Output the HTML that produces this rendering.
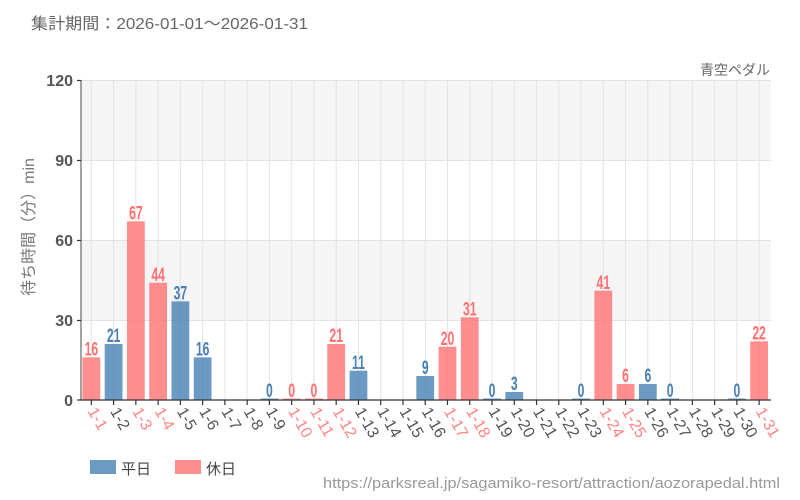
<!DOCTYPE html>
<html><head><meta charset="utf-8"><style>
html,body{margin:0;padding:0;background:#fff;}
svg{display:block;}
text{font-family:"Liberation Sans","Noto Sans CJK JP",sans-serif;}
</style></head><body>
<svg width="800" height="500" viewBox="0 0 800 500" xmlns="http://www.w3.org/2000/svg">
<rect x="0" y="0" width="800" height="500" fill="#fff"/>
<text x="31" y="29" font-size="16" fill="#666" textLength="277" lengthAdjust="spacingAndGlyphs">集計期間：2026-01-01～2026-01-31</text>
<text x="770" y="75" font-size="14" fill="#666" text-anchor="end">青空ペダル</text>

<!-- bands -->
<rect x="81" y="80" width="690" height="80" fill="#f5f5f5"/>
<rect x="81" y="240" width="690" height="80" fill="#f5f5f5"/>
<!-- horizontal gridlines -->
<g stroke="#e3e3e3" stroke-width="1">
<line x1="81" y1="80.5" x2="771" y2="80.5"/>
<line x1="81" y1="160.5" x2="771" y2="160.5"/>
<line x1="81" y1="240.5" x2="771" y2="240.5"/>
<line x1="81" y1="320.5" x2="771" y2="320.5"/>
</g>
<!-- vertical gridlines -->
<g stroke="#e3e3e3" stroke-width="1">
<line x1="91.33" y1="80" x2="91.33" y2="400"/>
<line x1="113.59" y1="80" x2="113.59" y2="400"/>
<line x1="135.85" y1="80" x2="135.85" y2="400"/>
<line x1="158.11" y1="80" x2="158.11" y2="400"/>
<line x1="180.37" y1="80" x2="180.37" y2="400"/>
<line x1="202.63" y1="80" x2="202.63" y2="400"/>
<line x1="224.89" y1="80" x2="224.89" y2="400"/>
<line x1="247.15" y1="80" x2="247.15" y2="400"/>
<line x1="269.41" y1="80" x2="269.41" y2="400"/>
<line x1="291.67" y1="80" x2="291.67" y2="400"/>
<line x1="313.93" y1="80" x2="313.93" y2="400"/>
<line x1="336.19" y1="80" x2="336.19" y2="400"/>
<line x1="358.45" y1="80" x2="358.45" y2="400"/>
<line x1="380.71" y1="80" x2="380.71" y2="400"/>
<line x1="402.97" y1="80" x2="402.97" y2="400"/>
<line x1="425.23" y1="80" x2="425.23" y2="400"/>
<line x1="447.49" y1="80" x2="447.49" y2="400"/>
<line x1="469.75" y1="80" x2="469.75" y2="400"/>
<line x1="492.01" y1="80" x2="492.01" y2="400"/>
<line x1="514.27" y1="80" x2="514.27" y2="400"/>
<line x1="536.53" y1="80" x2="536.53" y2="400"/>
<line x1="558.79" y1="80" x2="558.79" y2="400"/>
<line x1="581.05" y1="80" x2="581.05" y2="400"/>
<line x1="603.31" y1="80" x2="603.31" y2="400"/>
<line x1="625.57" y1="80" x2="625.57" y2="400"/>
<line x1="647.83" y1="80" x2="647.83" y2="400"/>
<line x1="670.09" y1="80" x2="670.09" y2="400"/>
<line x1="692.35" y1="80" x2="692.35" y2="400"/>
<line x1="714.61" y1="80" x2="714.61" y2="400"/>
<line x1="736.87" y1="80" x2="736.87" y2="400"/>
<line x1="759.13" y1="80" x2="759.13" y2="400"/>
</g>

<!-- bars -->
<g>
<rect x="82.43" y="357.33" width="17.8" height="42.67" fill="#ff7373" fill-opacity="0.8"/>
<rect x="104.69" y="344" width="17.8" height="56" fill="#4682b4" fill-opacity="0.8"/>
<rect x="126.95" y="221.33" width="17.8" height="178.67" fill="#ff7373" fill-opacity="0.8"/>
<rect x="149.21" y="282.67" width="17.8" height="117.33" fill="#ff7373" fill-opacity="0.8"/>
<rect x="171.47" y="301.33" width="17.8" height="98.67" fill="#4682b4" fill-opacity="0.8"/>
<rect x="193.73" y="357.33" width="17.8" height="42.67" fill="#4682b4" fill-opacity="0.8"/>
<rect x="260.51" y="398.5" width="17.8" height="1.5" fill="#4682b4" fill-opacity="0.8"/>
<rect x="282.77" y="398.5" width="17.8" height="1.5" fill="#ff7373" fill-opacity="0.8"/>
<rect x="305.03" y="398.5" width="17.8" height="1.5" fill="#ff7373" fill-opacity="0.8"/>
<rect x="327.29" y="344" width="17.8" height="56" fill="#ff7373" fill-opacity="0.8"/>
<rect x="349.55" y="370.67" width="17.8" height="29.33" fill="#4682b4" fill-opacity="0.8"/>
<rect x="416.33" y="376" width="17.8" height="24" fill="#4682b4" fill-opacity="0.8"/>
<rect x="438.59" y="346.67" width="17.8" height="53.33" fill="#ff7373" fill-opacity="0.8"/>
<rect x="460.85" y="317.33" width="17.8" height="82.67" fill="#ff7373" fill-opacity="0.8"/>
<rect x="483.11" y="398.5" width="17.8" height="1.5" fill="#4682b4" fill-opacity="0.8"/>
<rect x="505.37" y="392" width="17.8" height="8" fill="#4682b4" fill-opacity="0.8"/>
<rect x="572.15" y="398.5" width="17.8" height="1.5" fill="#4682b4" fill-opacity="0.8"/>
<rect x="594.41" y="290.67" width="17.8" height="109.33" fill="#ff7373" fill-opacity="0.8"/>
<rect x="616.67" y="384" width="17.8" height="16" fill="#ff7373" fill-opacity="0.8"/>
<rect x="638.93" y="384" width="17.8" height="16" fill="#4682b4" fill-opacity="0.8"/>
<rect x="661.19" y="398.5" width="17.8" height="1.5" fill="#4682b4" fill-opacity="0.8"/>
<rect x="727.97" y="398.5" width="17.8" height="1.5" fill="#4682b4" fill-opacity="0.8"/>
<rect x="750.23" y="341.33" width="17.8" height="58.67" fill="#ff7373" fill-opacity="0.8"/>
</g>

<!-- value labels -->
<g font-size="19" font-weight="bold" text-anchor="middle">
<text transform="translate(91.33,355.5) scale(0.64,1)" fill="#ff7070">16</text>
<text transform="translate(113.59,342) scale(0.64,1)" fill="#4a80b4">21</text>
<text transform="translate(135.85,219.5) scale(0.64,1)" fill="#ff7070">67</text>
<text transform="translate(158.11,280.8) scale(0.64,1)" fill="#ff7070">44</text>
<text transform="translate(180.37,299.5) scale(0.64,1)" fill="#4a80b4">37</text>
<text transform="translate(202.63,355.5) scale(0.64,1)" fill="#4a80b4">16</text>
<text transform="translate(269.41,397) scale(0.64,1)" fill="#4a80b4">0</text>
<text transform="translate(291.67,397) scale(0.64,1)" fill="#ff7070">0</text>
<text transform="translate(313.93,397) scale(0.64,1)" fill="#ff7070">0</text>
<text transform="translate(336.19,342) scale(0.64,1)" fill="#ff7070">21</text>
<text transform="translate(358.45,368.8) scale(0.64,1)" fill="#4a80b4">11</text>
<text transform="translate(425.23,374) scale(0.64,1)" fill="#4a80b4">9</text>
<text transform="translate(447.49,344.8) scale(0.64,1)" fill="#ff7070">20</text>
<text transform="translate(469.75,315.5) scale(0.64,1)" fill="#ff7070">31</text>
<text transform="translate(492.01,397) scale(0.64,1)" fill="#4a80b4">0</text>
<text transform="translate(514.27,390) scale(0.64,1)" fill="#4a80b4">3</text>
<text transform="translate(581.05,397) scale(0.64,1)" fill="#4a80b4">0</text>
<text transform="translate(603.31,288.8) scale(0.64,1)" fill="#ff7070">41</text>
<text transform="translate(625.57,382) scale(0.64,1)" fill="#ff7070">6</text>
<text transform="translate(647.83,382) scale(0.64,1)" fill="#4a80b4">6</text>
<text transform="translate(670.09,397) scale(0.64,1)" fill="#4a80b4">0</text>
<text transform="translate(736.87,397) scale(0.64,1)" fill="#4a80b4">0</text>
<text transform="translate(759.13,339.5) scale(0.64,1)" fill="#ff7070">22</text>
</g>

<!-- axes -->
<line x1="81" y1="80" x2="81" y2="400" stroke="#666" stroke-width="1.2"/>
<line x1="80" y1="400" x2="771" y2="400" stroke="#333" stroke-width="1.2"/>
<g stroke="#333" stroke-width="1.2">
<line x1="77" y1="80.5" x2="81" y2="80.5"/>
<line x1="77" y1="160.5" x2="81" y2="160.5"/>
<line x1="77" y1="240.5" x2="81" y2="240.5"/>
<line x1="77" y1="320.5" x2="81" y2="320.5"/>
<line x1="77" y1="400" x2="81" y2="400"/>
</g>
<g stroke="#333" stroke-width="1.2">
<line x1="91.33" y1="400" x2="91.33" y2="405"/>
<line x1="113.59" y1="400" x2="113.59" y2="405"/>
<line x1="135.85" y1="400" x2="135.85" y2="405"/>
<line x1="158.11" y1="400" x2="158.11" y2="405"/>
<line x1="180.37" y1="400" x2="180.37" y2="405"/>
<line x1="202.63" y1="400" x2="202.63" y2="405"/>
<line x1="224.89" y1="400" x2="224.89" y2="405"/>
<line x1="247.15" y1="400" x2="247.15" y2="405"/>
<line x1="269.41" y1="400" x2="269.41" y2="405"/>
<line x1="291.67" y1="400" x2="291.67" y2="405"/>
<line x1="313.93" y1="400" x2="313.93" y2="405"/>
<line x1="336.19" y1="400" x2="336.19" y2="405"/>
<line x1="358.45" y1="400" x2="358.45" y2="405"/>
<line x1="380.71" y1="400" x2="380.71" y2="405"/>
<line x1="402.97" y1="400" x2="402.97" y2="405"/>
<line x1="425.23" y1="400" x2="425.23" y2="405"/>
<line x1="447.49" y1="400" x2="447.49" y2="405"/>
<line x1="469.75" y1="400" x2="469.75" y2="405"/>
<line x1="492.01" y1="400" x2="492.01" y2="405"/>
<line x1="514.27" y1="400" x2="514.27" y2="405"/>
<line x1="536.53" y1="400" x2="536.53" y2="405"/>
<line x1="558.79" y1="400" x2="558.79" y2="405"/>
<line x1="581.05" y1="400" x2="581.05" y2="405"/>
<line x1="603.31" y1="400" x2="603.31" y2="405"/>
<line x1="625.57" y1="400" x2="625.57" y2="405"/>
<line x1="647.83" y1="400" x2="647.83" y2="405"/>
<line x1="670.09" y1="400" x2="670.09" y2="405"/>
<line x1="692.35" y1="400" x2="692.35" y2="405"/>
<line x1="714.61" y1="400" x2="714.61" y2="405"/>
<line x1="736.87" y1="400" x2="736.87" y2="405"/>
<line x1="759.13" y1="400" x2="759.13" y2="405"/>
</g>

<!-- y tick labels -->
<g font-size="16" font-weight="bold" fill="#555" text-anchor="end">
<text x="73" y="86">120</text>
<text x="73" y="166">90</text>
<text x="73" y="246">60</text>
<text x="73" y="326">30</text>
<text x="73" y="406">0</text>
</g>
<text transform="translate(34,227) rotate(-90)" font-size="16" fill="#777" text-anchor="middle">待ち時間（分）min</text>

<!-- x tick labels -->
<g font-size="16" dominant-baseline="central">
<text transform="translate(91.33,409) rotate(60)" fill="#ff8585">1-1</text>
<text transform="translate(113.59,409) rotate(60)" fill="#555">1-2</text>
<text transform="translate(135.85,409) rotate(60)" fill="#ff8585">1-3</text>
<text transform="translate(158.11,409) rotate(60)" fill="#ff8585">1-4</text>
<text transform="translate(180.37,409) rotate(60)" fill="#555">1-5</text>
<text transform="translate(202.63,409) rotate(60)" fill="#555">1-6</text>
<text transform="translate(224.89,409) rotate(60)" fill="#555">1-7</text>
<text transform="translate(247.15,409) rotate(60)" fill="#555">1-8</text>
<text transform="translate(269.41,409) rotate(60)" fill="#555">1-9</text>
<text transform="translate(291.67,409) rotate(60)" fill="#ff8585">1-10</text>
<text transform="translate(313.93,409) rotate(60)" fill="#ff8585">1-11</text>
<text transform="translate(336.19,409) rotate(60)" fill="#ff8585">1-12</text>
<text transform="translate(358.45,409) rotate(60)" fill="#555">1-13</text>
<text transform="translate(380.71,409) rotate(60)" fill="#555">1-14</text>
<text transform="translate(402.97,409) rotate(60)" fill="#555">1-15</text>
<text transform="translate(425.23,409) rotate(60)" fill="#555">1-16</text>
<text transform="translate(447.49,409) rotate(60)" fill="#ff8585">1-17</text>
<text transform="translate(469.75,409) rotate(60)" fill="#ff8585">1-18</text>
<text transform="translate(492.01,409) rotate(60)" fill="#555">1-19</text>
<text transform="translate(514.27,409) rotate(60)" fill="#555">1-20</text>
<text transform="translate(536.53,409) rotate(60)" fill="#555">1-21</text>
<text transform="translate(558.79,409) rotate(60)" fill="#555">1-22</text>
<text transform="translate(581.05,409) rotate(60)" fill="#555">1-23</text>
<text transform="translate(603.31,409) rotate(60)" fill="#ff8585">1-24</text>
<text transform="translate(625.57,409) rotate(60)" fill="#ff8585">1-25</text>
<text transform="translate(647.83,409) rotate(60)" fill="#555">1-26</text>
<text transform="translate(670.09,409) rotate(60)" fill="#555">1-27</text>
<text transform="translate(692.35,409) rotate(60)" fill="#555">1-28</text>
<text transform="translate(714.61,409) rotate(60)" fill="#555">1-29</text>
<text transform="translate(736.87,409) rotate(60)" fill="#555">1-30</text>
<text transform="translate(759.13,409) rotate(60)" fill="#ff8585">1-31</text>
</g>

<!-- legend -->
<rect x="90" y="460" width="26" height="14" fill="#4682b4" fill-opacity="0.8"/>
<text x="121" y="474" font-size="15" fill="#444">平日</text>
<rect x="175" y="460" width="26" height="14" fill="#ff7373" fill-opacity="0.8"/>
<text x="206" y="474" font-size="15" fill="#444">休日</text>

<text x="323" y="488" font-size="15" fill="#999" textLength="457" lengthAdjust="spacingAndGlyphs">https://parksreal.jp/sagamiko-resort/attraction/aozorapedal.html</text>
</svg>
</body></html>
